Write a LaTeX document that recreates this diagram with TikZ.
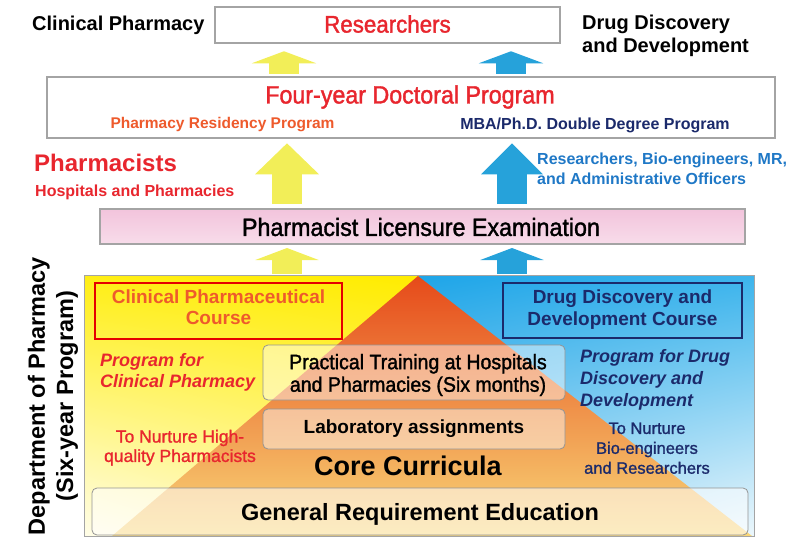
\documentclass[tikz,border=0pt]{standalone}
\usepackage{fontspec}
\setmainfont{Liberation Sans}
\newfontfamily\cond[FakeStretch=0.93,FakeBold=1.5]{Liberation Sans}
\newfontfamily\medf[FakeBold=1.3]{Liberation Sans}
\usetikzlibrary{arrows.meta,calc,shadings}
\definecolor{tred}{HTML}{E8262E}
\definecolor{tora}{HTML}{EE5A2C}
\definecolor{tnavy}{HTML}{1B2A6B}
\definecolor{tblue}{HTML}{1F78C6}
\definecolor{ayel}{HTML}{F2EE58}
\definecolor{ablu}{HTML}{26A2DA}
\definecolor{bgray}{HTML}{A4A4A4}
\definecolor{pinkA}{HTML}{F2C4DC}
\definecolor{pinkB}{HTML}{F8DCEA}
\definecolor{yUL}{HTML}{FFEE14}
\definecolor{yUR}{HTML}{FFEC00}
\definecolor{yLL}{HTML}{FFFDE8}
\definecolor{yLR}{HTML}{FFF6A0}
\definecolor{bUL}{HTML}{1EA5E8}
\definecolor{bUR}{HTML}{3CB4EC}
\definecolor{bLL}{HTML}{AADCF5}
\definecolor{bLR}{HTML}{ECF7FC}
\definecolor{oT}{HTML}{E64A1A}
\definecolor{oM}{HTML}{F29640}
\definecolor{oB}{HTML}{F9D778}
\newcommand{\fs}[1]{\fontsize{#1}{#1}\selectfont}
\tikzset{
  x=1pt,y=-1pt,
  topbox/.style={draw=bgray,line width=2.5pt,fill=white,inner sep=0pt,rectangle},
  inbox/.style={draw=bgray!90!black,line width=0.8pt,rounded corners=5pt,fill=white,fill opacity=0.45,text opacity=1,inner sep=0pt},
  course/.style={line width=1.6pt,fill=none,inner sep=0pt},
  lbl/.style={inner sep=0pt,align=center},
  yarrow/.style={draw=ayel,line width=30pt},
  barrow/.style={draw=ablu,line width=30pt},
}
\begin{document}
\begin{tikzpicture}
\useasboundingbox (0,0) rectangle (801,538);
% ---------- main department box ----------
\shade[shading=bilinear interpolation,upper left=yUL,upper right=yUR,lower left=yLL,lower right=yLR]
  (84,275) rectangle (419,536);
\shade[shading=bilinear interpolation,upper left=bUL,upper right=bUR,lower left=bLL,lower right=bLR]
  (419,275) rectangle (754,536);
\shade[top color=oT,middle color=oM,bottom color=oB]
  (418,276) -- (752,536) -- (112,536) -- cycle;
\node[draw=bgray,line width=1pt,minimum width=670,minimum height=261,inner sep=0pt] (dept) at (419,405.5) {};
% ---------- top boxes ----------
\node[topbox,minimum width=345,minimum height=36] (res) at (387.5,25) {};
\node[lbl,text=tred] at (387.5,24) {\cond\fs{24}Researchers};
\node[topbox,minimum width=728,minimum height=61] (doc) at (411,107.5) {};
\node[lbl,text=tred] at (410,97) {\cond\fs{25}Four-year Doctoral Program};
\node[lbl,text=tora] (resid) at (222.5,125) {\bfseries\fs{15.5}Pharmacy Residency Program};
\node[lbl,text=tnavy] (mba) at (595,125) {\bfseries\fs{16}MBA/Ph.D. Double Degree Program};
\node[draw=bgray,line width=2pt,top color=pinkA,bottom color=pinkB,minimum width=645,minimum height=35,inner sep=0pt] (lic) at (422.5,226.5) {};
\node[lbl] at (421,227) {\cond\fs{25}Pharmacist Licensure Examination};
% ---------- side labels ----------
\node[lbl,anchor=west] (cp) at (32,25) {\bfseries\fs{20}Clinical Pharmacy};
\node[lbl,anchor=west,align=left] (dd) at (582,36.5) {\bfseries\fs{20}\begin{tabular}{@{}l@{}}Drug Discovery\\[2.5pt]and Development\end{tabular}};
\node[lbl,anchor=west,align=left,text=tred] (ph) at (34,163) {\bfseries\fs{24}Pharmacists};
\node[lbl,anchor=west,text=tred] (hp) at (35,192) {\bfseries\fs{16}Hospitals and Pharmacies};
\node[lbl,anchor=west,align=left,text=tblue] (rb) at (537,171) {\bfseries\fs{16}\begin{tabular}{@{}l@{}}Researchers, Bio-engineers, MR,\\[3pt]and Administrative Officers\end{tabular}};
% ---------- arrows ----------
\coordinate (xa) at (284,0);
\coordinate (xb) at (511,0);
\coordinate (xc) at (287,0);
\coordinate (xd) at (512,0);
\draw[yarrow,-{Triangle[width=64pt,length=12pt]},shorten <=2pt,shorten >=7pt] (xa |- doc.north) -- (xa |- res.south);
\draw[barrow,-{Triangle[width=64pt,length=12pt]},shorten <=2pt,shorten >=7pt] (xb |- doc.north) -- (xb |- res.south);
\draw[yarrow,-{Triangle[width=62pt,length=31pt]},shorten <=4pt,shorten >=4pt] (xc |- lic.north) -- (xc |- doc.south);
\draw[barrow,-{Triangle[width=60pt,length=31pt]},shorten <=4pt,shorten >=4pt] (xd |- lic.north) -- (xd |- doc.south);
\draw[yarrow,-{Triangle[width=63pt,length=12pt]},shorten <=1pt,shorten >=3pt] (xc |- dept.north) -- (xc |- lic.south);
\draw[barrow,-{Triangle[width=63pt,length=12pt]},shorten <=1pt,shorten >=3pt] (xd |- dept.north) -- (xd |- lic.south);
% ---------- inside department ----------
\node[course,draw=red!90!black,minimum width=247,minimum height=56] (ccourse) at (218.5,311) {};
\node[lbl,text=tora] at (218.5,310) {\bfseries\fs{19}\begin{tabular}{@{}c@{}}Clinical Pharmaceutical\\[2pt]Course\end{tabular}};
\node[course,draw=tnavy,minimum width=239,minimum height=55] (dcourse) at (622.5,310.5) {};
\node[lbl,text=tnavy] at (622.5,310.5) {\bfseries\fs{19}\begin{tabular}{@{}c@{}}Drug Discovery and\\[2pt]Development Course\end{tabular}};
\node[inbox,minimum width=302,minimum height=55] (prac) at (414,372.5) {};
\node[lbl] at (418,376) {\cond\fs{21}\begin{tabular}{@{}c@{}}Practical Training at Hospitals\\[1pt]and Pharmacies (Six months)\end{tabular}};
\node[inbox,minimum width=302,minimum height=40] (lab) at (414,429) {};
\node[lbl] at (414,429) {\bfseries\fs{19}Laboratory assignments};
\node[lbl] (core) at (408,466) {\bfseries\fs{27}Core Curricula};
\node[inbox,minimum width=656,minimum height=47,fill opacity=0.55] (gen) at (420,511.5) {};
\node[lbl] at (420,514) {\bfseries\fs{23.5}General Requirement Education};
\node[lbl,anchor=west,align=left,text=tred] (pcp) at (100,373) {\bfseries\itshape\fs{18}\begin{tabular}{@{}l@{}}Program for\\[3pt]Clinical Pharmacy\end{tabular}};
\node[lbl,text=tred] (nhq) at (180,448.5) {\medf\fs{17.5}\begin{tabular}{@{}c@{}}To Nurture High-\\[1.5pt]quality Pharmacists\end{tabular}};
\node[lbl,anchor=west,align=left,text=tnavy] (pdd) at (580,380.5) {\bfseries\itshape\fs{18}\begin{tabular}{@{}l@{}}Program for Drug\\[3.5pt]Discovery and\\[3.5pt]Development\end{tabular}};
\node[lbl,text=tnavy] (nbr) at (647,450.5) {\medf\fs{16.5}\begin{tabular}{@{}c@{}}To Nurture\\[3pt]Bio-engineers\\[3pt]and Researchers\end{tabular}};
% ---------- vertical label ----------
\node[lbl,rotate=90] (depl) at (54,396) {\bfseries\fs{23.5}\begin{tabular}{@{}c@{}}Department of Pharmacy\\[4pt](Six-year Program)\end{tabular}};
\end{tikzpicture}
\end{document}
